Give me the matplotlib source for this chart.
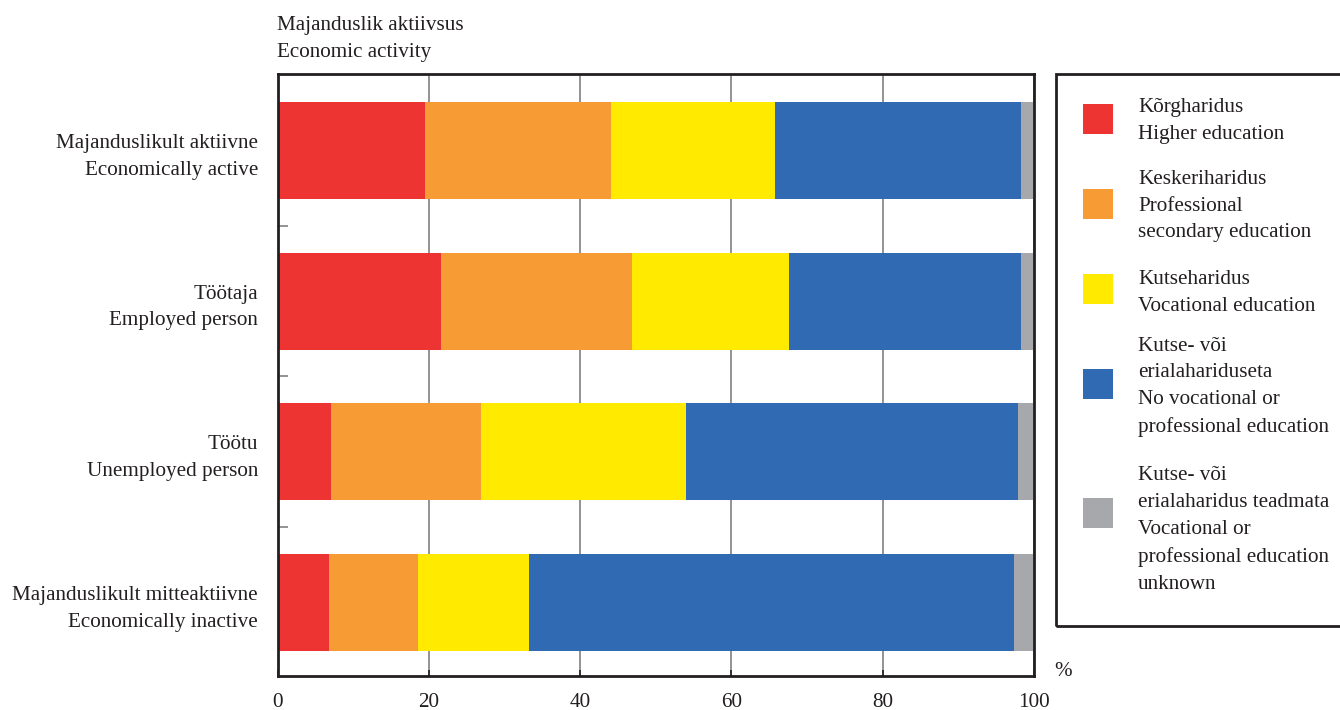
import matplotlib.pyplot as plt
from matplotlib.patches import Rectangle

plt.rcParams['font.family'] = ['Liberation Serif', 'DejaVu Serif']

# Categories (Estonian / English)
categories = [
    "Majanduslikult aktiivne\nEconomically active",
    "Töötaja\nEmployed person",
    "Töötu\nUnemployed person",
    "Majanduslikult mitteaktiivne\nEconomically inactive",
]

# Education levels (legend)
series_names = [
    "Kõrgharidus\nHigher education",
    "Keskeriharidus\nProfessional\nsecondary education",
    "Kutseharidus\nVocational education",
    "Kutse- või\nerialahariduseta\nNo vocational or\nprofessional education",
    "Kutse- või\nerialaharidus teadmata\nVocational or\nprofessional education\nunknown",
]
series_colors = ["#EE3433", "#F79C34", "#FFEA00", "#2F6AB3", "#A7A8AB"]

# Shares, %
higher = [19.5, 21.6, 7.1, 6.8]
prof_secondary = [24.6, 25.3, 19.8, 11.8]
vocational = [21.7, 20.7, 27.1, 14.6]
no_vocational = [32.5, 30.7, 43.9, 64.2]
unknown = [1.7, 1.7, 2.1, 2.6]
series_values = [higher, prof_secondary, vocational, no_vocational, unknown]

xticks = [0, 20, 40, 60, 80, 100]

text_col = "#231F20"
fs = 15.2
ls = 1.55

fig = plt.figure(figsize=(13.4, 7.1), dpi=100)
ax = fig.add_axes([0.2071, 0.0479, 0.5645, 0.8479])

ypos = list(range(len(categories)))
left = [0.0] * len(categories)
for vals, col in zip(series_values, series_colors):
    ax.barh(ypos, vals, left=left, height=0.644, color=col, linewidth=0, zorder=2)
    left = [a + b for a, b in zip(left, vals)]

ax.set_xlim(0, 100)
ax.set_ylim(3.488, -0.508)
ax.set_xticks(xticks)
ax.set_xticklabels([str(t) for t in xticks], fontsize=fs, color=text_col)
ax.tick_params(axis='x', direction='in', length=4, width=1.2, color='#231F20', pad=12)
ax.xaxis.grid(True, color='#808080', linewidth=1.2, zorder=0)
ax.set_axisbelow(True)

ax.set_yticks(ypos)
ax.set_yticklabels(categories, fontsize=fs, color=text_col, linespacing=ls)
ax.tick_params(axis='y', which='major', length=0, pad=14)
ax.set_yticks([0.5, 1.5, 2.5], minor=True)
ax.tick_params(axis='y', which='minor', direction='in', length=7, width=1.2, color='#808080')

for s in ax.spines.values():
    s.set_linewidth(2)
    s.set_color('#231F20')

fig.text(277 / 1340, 1 - 39 / 710, "Majanduslik aktiivsus\nEconomic activity",
         fontsize=fs, color=text_col, ha='left', va='center', linespacing=ls)
fig.text(1063 / 1340, 1 - 672 / 710, "%", fontsize=fs, color=text_col, ha='center', va='center')

# legend box
W, H = 1340, 710
fig.patches.append(Rectangle((1056 / W, 1 - 626 / H), 320 / W, 552 / H, transform=fig.transFigure,
                             fill=False, edgecolor='#231F20', linewidth=2))
patch_centers = [119, 204, 289, 384, 513]
text_centers = [121, 206, 293, 387, 530]
for name, col, pc, tc in zip(series_names, series_colors, patch_centers, text_centers):
    fig.patches.append(Rectangle((1083 / W, 1 - (pc + 15) / H), 30 / W, 30 / H,
                                 transform=fig.transFigure, facecolor=col, edgecolor='none'))
    fig.text(1138 / W, 1 - tc / H, name, fontsize=fs, color=text_col, ha='left', va='center',
             linespacing=ls)

fig.savefig("out.png", dpi=100)
